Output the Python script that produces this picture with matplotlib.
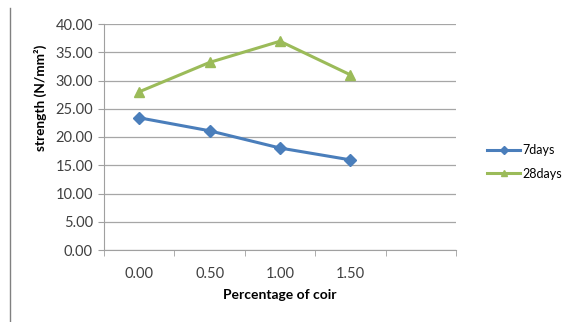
import matplotlib.pyplot as plt
from matplotlib.lines import Line2D

plt.rcParams['font.family'] = ['Lato', 'DejaVu Sans']

# coir percentage categories (last slot left empty on the axis)
categories = ['0.00', '0.50', '1.00', '1.50', '']
days7 = [23.4, 21.1, 18.05, 15.95]
days28 = [28.0, 33.2, 36.95, 31.0]
yticks = [0, 5, 10, 15, 20, 25, 30, 35, 40]

W, H = 566, 322
fig = plt.figure(figsize=(W / 100, H / 100), dpi=100)
ax = fig.add_axes([104 / W, 1 - 250 / H, (456 - 104) / W, (250 - 24) / H])

x = list(range(len(days7)))
ax.plot(x, days7, color='#4A7EBB', lw=2.2, marker='D', ms=6, label='7days', zorder=3)
ax.plot(x, days28, color='#9BBB59', lw=2.2, marker='^', ms=7, label='28days', zorder=3)

ax.set_xlim(-0.5, len(categories) - 0.5)
ax.set_ylim(0, 40)
ax.set_yticks(yticks)
ax.set_yticklabels([f'{v:.2f}' for v in yticks], fontsize=10.5, color='#404040')
ax.set_xticks(range(len(categories)))
ax.set_xticklabels(categories, fontsize=10.5, color='#404040')
# category boundaries get the tick marks, labels sit between them
ax.set_xticks([i - 0.5 for i in range(len(categories) + 1)], minor=True)
ax.tick_params(axis='x', which='major', length=0, pad=12)
ax.tick_params(axis='x', which='minor', length=4, color='#A0A0A0')
ax.tick_params(axis='y', length=4, color='#A0A0A0', pad=4)

ax.grid(axis='y', color='#A6A6A6', lw=0.9)
ax.set_axisbelow(True)
for side in ['top', 'right']:
    ax.spines[side].set_visible(False)
ax.spines['left'].set_color('#A0A0A0')
ax.spines['bottom'].set_color('#A0A0A0')

# y title sits high, beside the upper part of the axis
fig.text(40 / W, 1 - 98 / H, 'strength (N/mm²)', rotation=90, ha='center', va='center',
         fontsize=9.8, fontweight='bold')
ax.set_xlabel('Percentage of coir', fontsize=10, fontweight='bold', labelpad=6)

handles = [
    Line2D([], [], color='#4A7EBB', lw=2.2, marker='D', ms=4),
    Line2D([], [], color='#9BBB59', lw=2.2, marker='^', ms=5),
]
fig.legend(handles, ['7days', '28days'], loc='center left',
           bbox_to_anchor=(476 / W, 1 - 162 / H), frameon=False,
           fontsize=9, handlelength=2.6, handletextpad=0.2, labelspacing=0.9)

# left border line of the page
fig.add_artist(Line2D([10 / W, 10 / W], [0, 1 - 8 / H], color='#808080', lw=1))

fig.savefig('out.png', dpi=100)
